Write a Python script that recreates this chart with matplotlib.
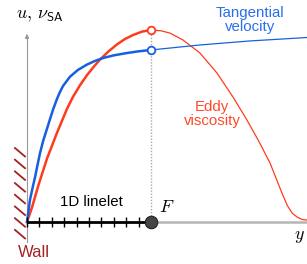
import matplotlib
matplotlib.use("Agg")
import matplotlib.pyplot as plt

plt.rcParams['mathtext.fontset'] = 'cm'
plt.rcParams['font.family'] = ['Liberation Sans', 'DejaVu Sans']

# ---- data (wall distance normalised so that the linelet end F = 1) ----
blue_x_in = [0.0, 0.024, 0.045, 0.065, 0.085, 0.105, 0.130, 0.161, 0.185, 0.210, 0.240,
             0.265, 0.290, 0.347, 0.411, 0.484, 0.545, 0.613, 0.700, 0.806, 0.900, 1.0]
blue_v_in = [0.0, 0.115, 0.178, 0.234, 0.298, 0.359, 0.422, 0.485, 0.535, 0.585, 0.638,
             0.676, 0.708, 0.757, 0.792, 0.820, 0.838, 0.854, 0.868, 0.880, 0.889, 0.896]
blue_x_out = [1.0, 1.395, 1.798, 2.185, 2.258]
blue_v_out = [0.896, 0.922, 0.943, 0.958, 0.961]

red_x_in = [0.0, 0.040, 0.089, 0.161, 0.242, 0.323, 0.371, 0.427, 0.484, 0.540, 0.589,
            0.660, 0.726, 0.790, 0.855, 0.930, 1.0]
red_v_in = [0.0, 0.075, 0.185, 0.330, 0.465, 0.590, 0.652, 0.712, 0.765, 0.810, 0.846,
            0.890, 0.925, 0.953, 0.974, 0.992, 1.0]
red_x_out = [1.0, 1.080, 1.153, 1.258, 1.395, 1.532, 1.661, 1.774, 1.870, 1.960, 2.056,
             2.100, 2.140, 2.180, 2.220, 2.258]
red_v_out = [1.0, 0.996, 0.984, 0.948, 0.880, 0.776, 0.651, 0.531, 0.420, 0.307, 0.151,
             0.085, 0.045, 0.025, 0.013, 0.010]

linelet_nodes = [0.0, 0.1, 0.2, 0.3, 0.4, 0.5, 0.6, 0.7, 0.8, 0.9]
F_pos = 1.0

RED = '#FF3B1E'
BLUE = '#1660E0'
WALL = '#A32222'

fig = plt.figure(figsize=(3.07, 2.64), dpi=100)
ax = fig.add_axes([0, 0, 1, 1])
ax.set_xlim(-27 / 124, 280 / 124)
ax.set_ylim(-42 / 192, 222 / 192)
ax.axis('off')

# axes
ax.plot([0, 0], [-0.104, 0.96], color='#999999', lw=0.8, zorder=1)
ax.annotate('', xy=(0, 0.995), xytext=(0, 0.94),
            arrowprops=dict(arrowstyle='-|>', color='#999999', lw=0.8, mutation_scale=6))
ax.plot([F_pos, 2.3], [0, 0], color='#B5B5B5', lw=1.8, zorder=1, solid_capstyle='butt')

# wall hatch
for i in range(8):
    y0 = (222 - 148 - i * 11.7) / 192
    ax.plot([-0.097, -0.016], [y0, y0 - 8.5 / 192], color=WALL, lw=1.3, zorder=2)

# dotted guide
ax.plot([F_pos, F_pos], [0, 1.0], color='#AAAAAA', lw=1.0, ls=(0, (1, 1.2)), zorder=1)

# curves
ax.plot(red_x_out, red_v_out, color=RED, lw=0.9, zorder=3)
ax.plot(blue_x_out, blue_v_out, color=BLUE, lw=0.9, zorder=3)
ax.plot(red_x_in, red_v_in, color=RED, lw=1.8, zorder=4, solid_joinstyle='round')
ax.plot(blue_x_in, blue_v_in, color=BLUE, lw=1.8, zorder=4, solid_joinstyle='round')
ax.plot([red_x_in[-1]], [red_v_in[-1]], 'o', ms=5.5, mfc='white', mec=RED, mew=1.3, zorder=5)
ax.plot([blue_x_in[-1]], [blue_v_in[-1]], 'o', ms=5.5, mfc='white', mec=BLUE, mew=1.3, zorder=5)

# linelet
ax.plot([0, F_pos], [0, 0], color='black', lw=2.0, zorder=5, solid_capstyle='butt')
ax.plot(linelet_nodes, [0] * len(linelet_nodes), ls='none', marker='|', ms=7, mew=1.0,
        color='black', zorder=5)
ax.plot([F_pos], [0], 'o', ms=9, mfc='#444444', mec='#222222', mew=0.8, zorder=6)

# texts
ax.text(0.105, 1.0625, r'$u,\,\nu_{\mathsf{SA}}$', fontsize=13, ha='center', va='baseline')
ax.text(1.798, 1.052, 'Tangential\nvelocity', color='#2A6FF0', fontsize=10.8,
        ha='center', va='center', linespacing=0.95)
ax.text(1.492, 0.5625, 'Eddy\nviscosity', color='#FF4A28', fontsize=10.8,
        ha='center', va='center', linespacing=0.95)
ax.text(0.516, 0.104, '1D linelet', fontsize=10.8, ha='center', va='center')
ax.text(1.129, 0.078, r'$F$', fontsize=13, ha='center', va='center')
ax.text(2.194, -0.073, r'$y$', fontsize=13, ha='center', va='center')
ax.text(0.056, -0.161, 'Wall', color=WALL, fontsize=12, ha='center', va='center')

fig.savefig('out.png', dpi=100)
